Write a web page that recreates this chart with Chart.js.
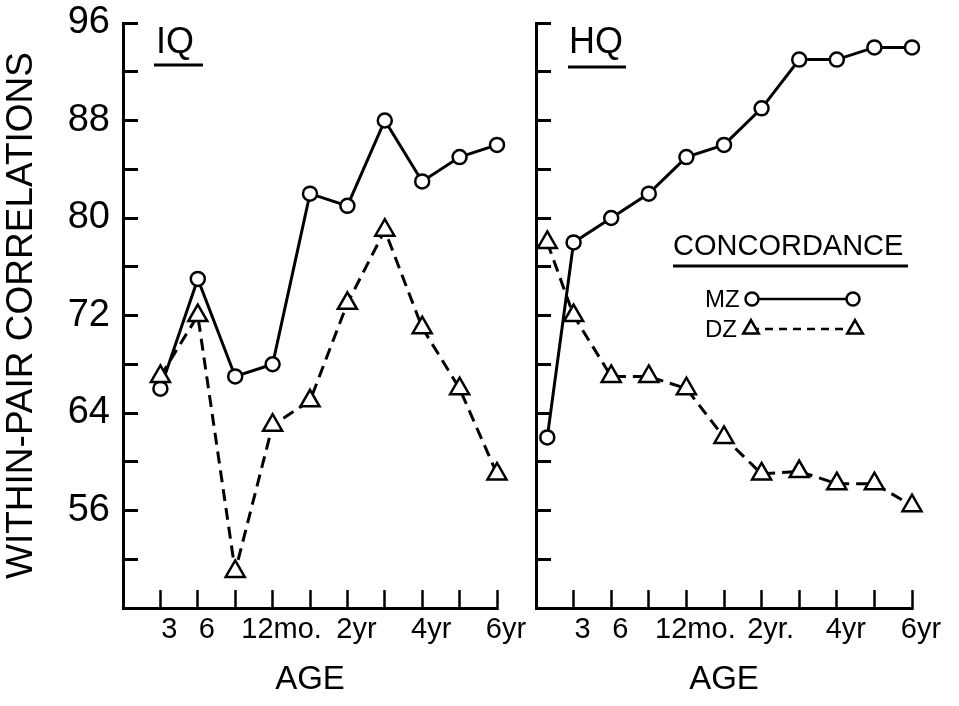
<!DOCTYPE html>
<html>
<head>
<meta charset="utf-8">
<script src="https://cdn.jsdelivr.net/npm/chart.js@4.4.1/dist/chart.umd.min.js"></script>
<style>
  body { margin: 0; background: #fff; }
  #wrap { position: relative; width: 959px; height: 706px; }
  #wrap canvas { position: absolute; left: 0; top: 0; }
</style>
</head>
<body>
<div id="wrap">
  <canvas id="iqChart" width="959" height="706"></canvas>
  <canvas id="hqChart" width="959" height="706"></canvas>
</div>
<script>
// age positions on the x axis: 1=3mo, 2=6mo, 4=12mo, 6=2yr, 8=4yr, 10=6yr
const iqAges = [1, 2, 3, 4, 5, 6, 7, 8, 9, 10];
const iqMZ = [66, 75, 67, 68, 82, 81, 88, 83, 85, 86];
const iqDZ = [67, 72, 51, 63, 65, 73, 79, 71, 66, 59];

const hqAges = [0.3, 1, 2, 3, 4, 5, 6, 7, 8, 9, 10];
const hqMZ = [62, 78, 80, 82, 85, 86, 89, 93, 93, 94, 94];
const hqDZ = [78, 72, 67, 67, 66, 62, 59, 59.2, 58.2, 58.2, 56.4];

const iqAgeLabels = ['', '3', '6', '', '12mo.', '', '2yr', '', '4yr', '', '6yr'];
const hqAgeLabels = ['', '3', '6', '', '12mo.', '', '2yr.', '', '4yr', '', '6yr'];
const yLabelled = [56, 64, 72, 80, 88, 96];

const FONT = "'Liberation Sans', Arial, sans-serif";
Chart.defaults.font.family = FONT;
Chart.defaults.color = '#000';

function pts(ages, vals) {
  return ages.map((a, i) => ({ x: a, y: vals[i] }));
}

function mzSet(data) {
  return {
    label: 'MZ', data: data,
    borderColor: '#000', borderWidth: 3,
    pointStyle: 'circle', pointRadius: 7,
    pointBackgroundColor: '#fff', pointBorderColor: '#000', pointBorderWidth: 2.5,
    clip: false
  };
}
function dzSet(data) {
  return {
    label: 'DZ', data: data,
    borderColor: '#000', borderWidth: 3, borderDash: [12, 7],
    pointStyle: 'triangle', pointRadius: 11,
    pointBackgroundColor: '#fff', pointBorderColor: '#000', pointBorderWidth: 2.5,
    clip: false
  };
}

// panel titles, underlines and the concordance key
const panelText = {
  id: 'panelText',
  afterDraw(chart, args, opts) {
    const ctx = chart.ctx;
    ctx.save();
    ctx.fillStyle = '#000';
    ctx.strokeStyle = '#000';
    (opts.items || []).forEach(t => {
      ctx.font = t.font;
      ctx.textBaseline = 'alphabetic';
      ctx.textAlign = 'left';
      ctx.fillText(t.text, t.x, t.y);
      if (t.line) {
        ctx.lineWidth = 3;
        ctx.beginPath();
        ctx.moveTo(t.line[0], t.line[2]);
        ctx.lineTo(t.line[1], t.line[2]);
        ctx.stroke();
      }
    });
    (opts.keys || []).forEach(k => {
      ctx.lineWidth = 2.5;
      ctx.setLineDash(k.dash || []);
      ctx.beginPath();
      ctx.moveTo(k.x1, k.y);
      ctx.lineTo(k.x2, k.y);
      ctx.stroke();
      ctx.setLineDash([]);
      [k.x1, k.x2].forEach(x => {
        ctx.beginPath();
        if (k.shape === 'circle') {
          ctx.arc(x, k.y, 6.5, 0, Math.PI * 2);
        } else {
          const r = 9;
          ctx.moveTo(x, k.y - r);
          ctx.lineTo(x + r * 0.866, k.y + r * 0.5);
          ctx.lineTo(x - r * 0.866, k.y + r * 0.5);
          ctx.closePath();
        }
        ctx.fillStyle = '#fff';
        ctx.fill();
        ctx.stroke();
      });
    });
    ctx.restore();
  }
};

function panel(canvasId, ages, mz, dz, ageLabels, padding, yAxisWidth, showY, textOpts) {
  return new Chart(document.getElementById(canvasId), {
    type: 'line',
    data: {
      datasets: [dzSet(pts(ages, dz)), mzSet(pts(ages, mz))]
    },
    options: {
      responsive: false,
      animation: false,
      devicePixelRatio: 1,
      layout: { padding: padding },
      plugins: {
        legend: { display: false },
        tooltip: { enabled: false },
        panelText: textOpts
      },
      scales: {
        x: {
          type: 'linear',
          min: 0, max: 10,
          afterFit: s => { s.height = 98; },
          border: { display: true, color: '#000', width: 3 },
          grid: {
            display: true, drawOnChartArea: false, drawTicks: true,
            tickLength: -18, tickWidth: 2.5, tickColor: '#000'
          },
          ticks: {
            stepSize: 1,
            autoSkip: false,
            maxRotation: 0,
            labelOffset: 9,
            padding: 25,
            font: { size: 29, lineHeight: 1 },
            callback: v => ageLabels[v] || ''
          },
          title: {
            display: true, text: 'AGE',
            font: { size: 33, lineHeight: 1.2 },
            padding: { top: 0, bottom: 6 }
          }
        },
        y: {
          min: 48, max: 96,
          afterFit: s => { s.width = yAxisWidth; s.paddingTop = 0; s.paddingBottom = 0; },
          border: { display: true, color: '#000', width: 3 },
          grid: {
            display: true, drawOnChartArea: false, drawTicks: true,
            tickLength: -15, tickWidth: 3, tickColor: '#000'
          },
          ticks: {
            display: showY,
            stepSize: 4,
            padding: 28,
            font: { size: 38, lineHeight: 1 },
            callback: v => yLabelled.includes(v) ? String(v) : ''
          },
          title: {
            display: showY, text: 'WITHIN-PAIR CORRELATIONS',
            font: { size: 37, lineHeight: 1.2 },
            padding: { top: 0, bottom: 0 }
          }
        }
      }
    },
    plugins: [panelText]
  });
}

panel('iqChart', iqAges, iqMZ, iqDZ, iqAgeLabels,
  { top: 23, right: 462, bottom: 0, left: 0 }, 123, true,
  { items: [{ text: 'IQ', font: '36px ' + FONT, x: 156, y: 53, line: [154, 203, 65] }] });

panel('hqChart', hqAges, hqMZ, hqDZ, hqAgeLabels,
  { top: 23, right: 47, bottom: 0, left: 500 }, 36, false,
  {
    items: [
      { text: 'HQ', font: '36px ' + FONT, x: 569, y: 53, line: [568, 626, 67] },
      { text: 'CONCORDANCE', font: '29px ' + FONT, x: 673, y: 255, line: [673, 908, 266] },
      { text: 'MZ', font: '24px ' + FONT, x: 705, y: 307 },
      { text: 'DZ', font: '24px ' + FONT, x: 705, y: 337 }
    ],
    keys: [
      { shape: 'circle', x1: 752, x2: 853, y: 299 },
      { shape: 'triangle', x1: 751, x2: 855, y: 329, dash: [8, 6] }
    ]
  });
</script>
</body>
</html>
